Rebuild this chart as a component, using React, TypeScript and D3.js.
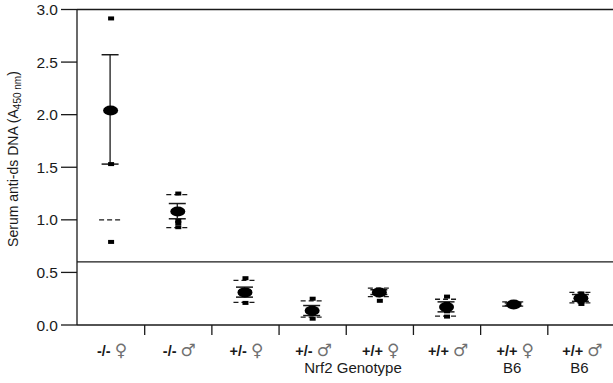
import React from "react";
import * as d3 from "d3";

const genotypes = ["-/-", "-/-", "+/-", "+/-", "+/+", "+/+", "+/+", "+/+"];
const sexes = ["♀", "♂", "♀", "♂", "♀", "♂", "♀", "♂"];
const strainLabels = ["", "", "", "", "", "", "B6", "B6"];
const means = [2.04, 1.08, 0.31, 0.135, 0.31, 0.17, 0.195, 0.255];
const errHigh = [2.57, 1.155, 0.36, 0.185, 0.335, 0.22, 0.21, 0.29];
const errLow = [1.53, 1.01, 0.265, 0.09, 0.29, 0.125, 0.185, 0.225];
const pctHigh: (number | null)[] = [null, 1.24, 0.425, 0.23, 0.35, 0.245, 0.22, 0.31];
const pctLow = [1.0, 0.925, 0.215, 0.075, 0.27, 0.085, 0.18, 0.21];
const outliers: number[][] = [
  [2.915, 1.53, 0.79],
  [1.25, 0.99, 0.97, 0.93],
  [0.445, 0.33, 0.29, 0.21],
  [0.25, 0.15, 0.11, 0.06],
  [0.33, 0.23],
  [0.27, 0.2, 0.13, 0.08],
  [],
  [0.3, 0.27, 0.22, 0.2],
];
const yTicks = [0, 0.5, 1.0, 1.5, 2.0, 2.5, 3.0];
const refLine = 0.6;
const xTitle = "Nrf2 Genotype";

const W = 613;
const H = 383;
const axisX = 77;
const rightX = 613;
const ink = "#1a1a1a";

export default function App() {
  const y = d3.scaleLinear().domain([0, 3]).range([325, 9.5]);
  const idx = genotypes.map((_, i) => String(i));
  const x = d3.scaleBand().domain(idx).range([77.5, 615]).padding(0);
  const bw = x.bandwidth();
  const font = "'Liberation Sans', Arial, sans-serif";

  return (
    <svg
      width={W}
      height={H}
      style={{ position: "absolute", left: 0, top: 0, background: "#fff" }}
      fontFamily={font}
    >
      {/* frame lines */}
      <line x1={axisX} x2={axisX} y1={y(3)} y2={y(0)} stroke={ink} strokeWidth={1.3} />
      <line x1={axisX} x2={rightX} y1={y(3)} y2={y(3)} stroke={ink} strokeWidth={1.3} />
      <line x1={axisX} x2={rightX} y1={y(0)} y2={y(0)} stroke={ink} strokeWidth={1.3} />
      <line x1={axisX} x2={rightX} y1={y(refLine)} y2={y(refLine)} stroke={ink} strokeWidth={1.3} />

      {/* y ticks */}
      {yTicks.map((t) => (
        <g key={t}>
          <line x1={61} x2={axisX} y1={y(t)} y2={y(t)} stroke={ink} strokeWidth={1.3} />
          <text x={58} y={y(t)} dy="0.36em" textAnchor="end" fontSize={15.5} fill={ink}>
            {t.toFixed(1)}
          </text>
        </g>
      ))}

      {/* y label */}
      <text
        transform={`translate(18,${159}) rotate(-90)`}
        textAnchor="middle"
        fontSize={14}
        fill={ink}
      >
        Serum anti-ds DNA (A
        <tspan fontSize={10} dy={3}>450 nm</tspan>
        <tspan dy={-3}>)</tspan>
      </text>

      {/* x ticks */}
      {idx.slice(1).map((d) => (
        <line
          key={d}
          x1={x(d)!}
          x2={x(d)!}
          y1={y(0)}
          y2={y(0) + 10}
          stroke={ink}
          strokeWidth={1.3}
        />
      ))}

      {/* x labels */}
      {idx.map((d, i) => {
        const cx = x(d)! + bw / 2;
        return (
          <g key={d}>
            <text x={cx + 1} y={356} textAnchor="middle" fontSize={14.5} fill={ink}>
              <tspan fontWeight="bold">{genotypes[i]} </tspan>
              <tspan
                fill="#707070"
                style={{ fontFamily: "'DejaVu Sans', 'Noto Sans', sans-serif" }}
                fontSize={17}
              >
                {sexes[i] + "\uFE0E"}
              </tspan>
            </text>
            {strainLabels[i] && (
              <text x={cx - 2} y={373} textAnchor="middle" fontSize={15} fill={ink}>
                {strainLabels[i]}
              </text>
            )}
          </g>
        );
      })}
      <text x={353} y={373} textAnchor="middle" fontSize={15} fill={ink}>
        {xTitle}
      </text>

      {/* data */}
      {idx.map((d, i) => {
        const cx = x(d)! + bw / 2 - 1;
        const ph = pctHigh[i];
        return (
          <g key={d}>
            <line x1={cx} x2={cx} y1={y(errHigh[i])} y2={y(errLow[i])} stroke={ink} strokeWidth={1.3} />
            <line x1={cx - 8.5} x2={cx + 8.5} y1={y(errHigh[i])} y2={y(errHigh[i])} stroke={ink} strokeWidth={1.5} />
            <line x1={cx - 8.5} x2={cx + 8.5} y1={y(errLow[i])} y2={y(errLow[i])} stroke={ink} strokeWidth={1.5} />
            {ph !== null && (
              <line
                x1={cx - 11}
                x2={cx + 11}
                y1={y(ph)}
                y2={y(ph)}
                stroke={ink}
                strokeWidth={1.3}
                strokeDasharray="5 3"
              />
            )}
            <line
              x1={cx - 11}
              x2={cx + 11}
              y1={y(pctLow[i])}
              y2={y(pctLow[i])}
              stroke={ink}
              strokeWidth={1.3}
              strokeDasharray="5 3"
            />
            {outliers[i].map((v, j) => (
              <rect key={j} x={cx - 2} y={y(v) - 2} width={6} height={4} fill="#000" />
            ))}
            <ellipse cx={cx + 0.5} cy={y(means[i])} rx={7.5} ry={5} fill="#000" />
          </g>
        );
      })}
    </svg>
  );
}
